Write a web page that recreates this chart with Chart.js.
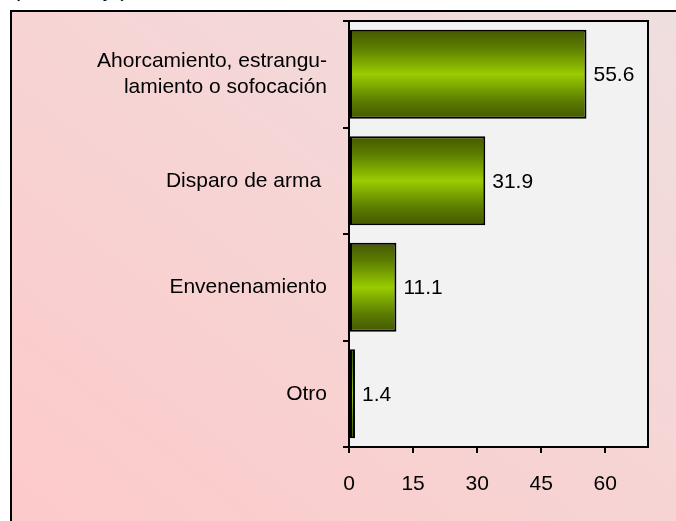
<!DOCTYPE html>
<html>
<head>
<meta charset="utf-8">
<script src="https://cdn.jsdelivr.net/npm/chart.js@4.4.0/dist/chart.umd.min.js"></script>
<style>
  body { margin: 0; width: 676px; height: 521px; overflow: hidden; background: #fff; position: relative; font-family: "Liberation Sans", Arial, sans-serif; }
  .unit { position: absolute; left: 13px; top: -21px; font-size: 21px; line-height: 21px; color: #000; white-space: nowrap; }
  .frame { position: absolute; left: 10px; top: 10px; width: 700px; height: 540px; border: 2px solid #000; box-sizing: border-box;
           background: linear-gradient(to top right, #fdc9c9 0%, #f6d5d5 55%, #efdfdf 100%); }
  .chart-box { position: absolute; left: 0; top: 0; width: 676px; height: 521px; }
</style>
</head>
<body>
<div class="unit">(Porcentaje)</div>
<div class="frame"></div>
<div class="chart-box"><canvas id="chart" width="676" height="521"></canvas></div>
<script>
// categories and values (percent)
var categories = [
  ['Ahorcamiento, estrangu-', 'lamiento o sofocación'],
  'Disparo de arma ',
  'Envenenamiento',
  'Otro'
];
var values = [55.6, 31.9, 11.1, 1.4];
var xTicks = [0, 15, 30, 45, 60];

const barPct = 0.836;

// gray plot area with black box
const plotBox = {
  id: 'plotBox',
  beforeDraw(chart) {
    const {ctx, chartArea: a} = chart;
    ctx.save();
    ctx.fillStyle = '#f2f2f2';
    ctx.fillRect(a.left, a.top, a.right - a.left, a.bottom - a.top);
    ctx.restore();
  },
  afterDatasetsDraw(chart) {
    const {ctx, chartArea: a} = chart;
    ctx.save();
    ctx.strokeStyle = '#000';
    ctx.lineWidth = 2;
    ctx.strokeRect(a.left, a.top, a.right - a.left, a.bottom - a.top);
    // little stub of the x axis left of zero
    ctx.beginPath();
    ctx.moveTo(a.left - 6, a.bottom);
    ctx.lineTo(a.left, a.bottom);
    ctx.stroke();
    ctx.restore();
  }
};

// value labels at end of bars
const valueLabels = {
  id: 'valueLabels',
  afterDatasetsDraw(chart) {
    const {ctx} = chart;
    const meta = chart.getDatasetMeta(0);
    ctx.save();
    ctx.font = '21px "Liberation Sans", Arial, sans-serif';
    ctx.fillStyle = '#000';
    ctx.textAlign = 'left';
    ctx.textBaseline = 'middle';
    meta.data.forEach((bar, i) => {
      ctx.fillText(values[i].toFixed(1), bar.x + 7, bar.y + 1);
    });
    ctx.restore();
  }
};

function barGradient(context) {
  const chart = context.chart;
  if (!chart.chartArea) return '#99cc00';
  const yScale = chart.scales.y;
  const c = yScale.getPixelForValue(context.dataIndex);
  const half = yScale.height / categories.length * barPct / 2;
  const g = chart.ctx.createLinearGradient(0, c - half, 0, c + half);
  g.addColorStop(0, '#445800');
  g.addColorStop(0.2, '#5c7c00');
  g.addColorStop(0.5, '#99cc00');
  g.addColorStop(0.8, '#5c7c00');
  g.addColorStop(1, '#445800');
  return g;
}

new Chart(document.getElementById('chart'), {
  type: 'bar',
  data: {
    labels: categories,
    datasets: [{
      data: values,
      backgroundColor: barGradient,
      borderColor: '#000',
      borderWidth: 2,
      borderSkipped: false,
      categoryPercentage: 1,
      barPercentage: barPct
    }]
  },
  options: {
    indexAxis: 'y',
    responsive: false,
    animation: false,
    layout: { padding: { top: 21, right: 28, left: 0, bottom: 0 } },
    plugins: {
      legend: { display: false },
      tooltip: { enabled: false },
      title: { display: false }
    },
    scales: {
      x: {
        min: 0,
        max: 70,
        afterBuildTicks: (scale) => {
          scale.ticks = xTicks.map(v => ({ value: v }));
        },
        afterFit: (scale) => { scale.height = 74; scale.paddingLeft = 0; scale.paddingRight = 0; },
        border: { display: false },
        grid: { drawOnChartArea: false, drawTicks: true, tickLength: 6, color: '#000', lineWidth: 2 },
        ticks: {
          color: '#000',
          padding: 19,
          font: { family: '"Liberation Sans", Arial, sans-serif', size: 21 },
          maxRotation: 0
        }
      },
      y: {
        afterFit: (scale) => { scale.width = 349; scale.paddingTop = 0; scale.paddingBottom = 0; },
        border: { display: false },
        grid: { offset: true, drawOnChartArea: false, tickLength: 6, color: '#000', lineWidth: 2 },
        ticks: {
          color: '#000',
          padding: 16,
          font: { family: '"Liberation Sans", Arial, sans-serif', size: 21, lineHeight: 1.2 }
        }
      }
    }
  },
  plugins: [plotBox, valueLabels]
});
</script>
</body>
</html>
